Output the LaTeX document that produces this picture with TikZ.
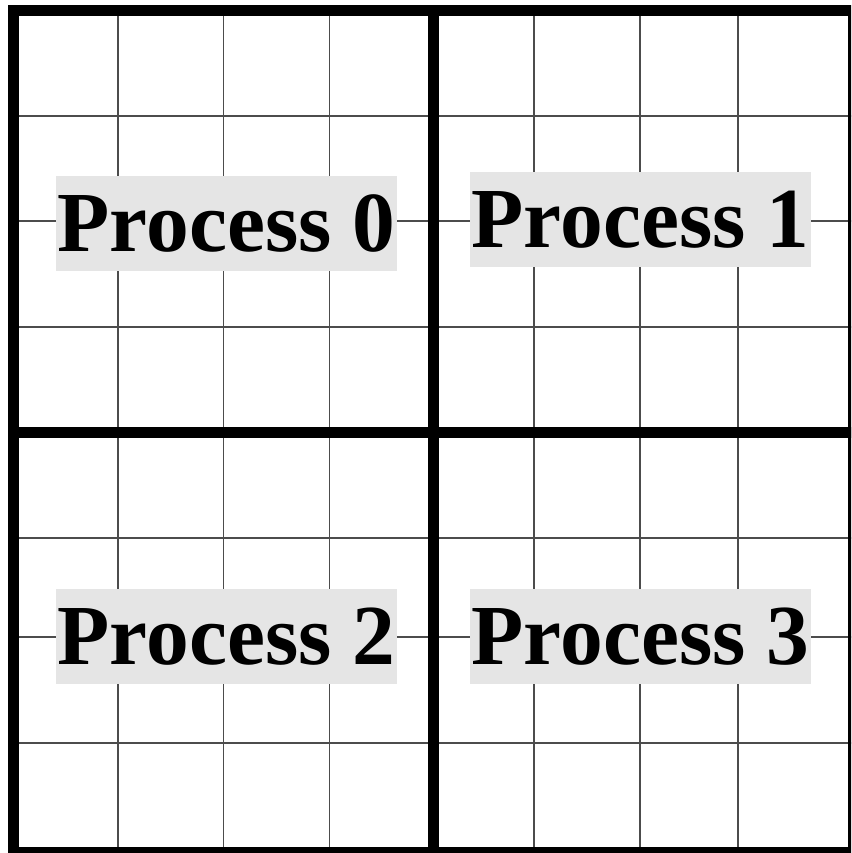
\documentclass[tikz,border=0pt]{standalone}
\usepackage{fontspec}
\setmainfont{Liberation Serif}
\begin{document}
\begin{tikzpicture}[x=1pt,y=-1pt,
  thinline/.style={line width=1.1pt,draw=black!70},
  thickline/.style={line width=11pt,draw=black,line join=miter},
  proc/.style={fill=black!10,inner xsep=0pt,inner ysep=0pt,minimum width=341pt,
    text height=75.7pt,text depth=19.3pt,anchor=north west,
    font=\fontsize{85.5}{85.5}\selectfont\bfseries}]
\useasboundingbox (0,0) rectangle (851,853);
\clip (0,0) rectangle (851,853);
\fill[white] (0,0) rectangle (851,853);
% thin grid lines
\foreach \x in {118,223.5,329.5,534,640,738}
  \draw[thinline] (\x,11) -- (\x,853);
\foreach \y in {116,221,327,538,637,743}
  \draw[thinline] (13.5,\y) -- (853.5,\y);
% thick partition lines
\draw[thickline] (13.5,11) rectangle (853.5,852.5);
\draw[thickline] (433.5,11) -- (433.5,852.5);
\draw[thickline] (13.5,432) -- (853.5,432);
% labels
\node[proc] (p0) at (56,176) {Process 0};
\node[proc] (p1) at (470,172) {Process 1};
\node[proc] (p2) at (56,589) {Process 2};
\node[proc] (p3) at (470,589) {Process 3};
\end{tikzpicture}
\end{document}
